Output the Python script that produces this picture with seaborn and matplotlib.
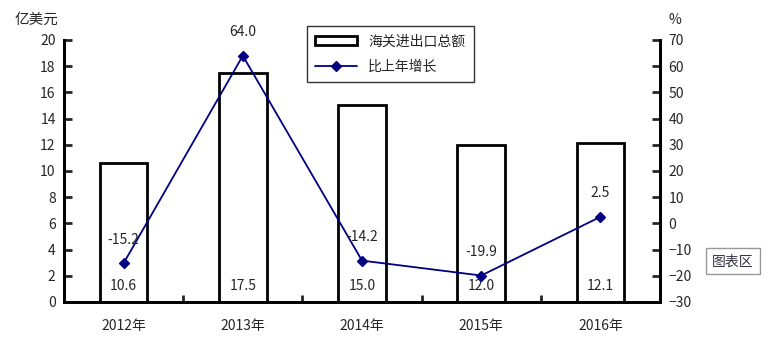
import numpy as np
import pandas as pd
import seaborn as sns
import matplotlib.pyplot as plt

years = ["2012年", "2013年", "2014年", "2015年", "2016年"]
total = [10.6, 17.5, 15.0, 12.0, 12.1]
growth = [-15.2, 64.0, -14.2, -19.9, 2.5]

sns.set_style("white")
plt.rcParams["font.family"] = ["Noto Sans CJK SC", "DejaVu Sans"]

df = pd.DataFrame({"year": years, "total": total, "growth": growth})

fig = plt.figure(figsize=(7.76, 3.53), dpi=100)
ax = fig.add_axes([0.0825, 0.1445, 0.768, 0.7422])

sns.barplot(data=df, x="year", y="total", ax=ax, fill=False, width=0.4,
            edgecolor="black", linewidth=2, label="海关进出口总额")
ax.set_ylim(0, 20)
ax.set_yticks(np.arange(0, 21, 2))
ax.set_xlim(-0.5, 4.5)
ax.set_xlabel("")
ax.set_ylabel("")

ax2 = ax.twinx()
sns.pointplot(data=df, x="year", y="growth", ax=ax2, color="#000080",
              markers="D", markersize=5, linewidth=1.3, label="比上年增长")
ax2.set_ylim(-30, 70)
ax2.set_yticks(np.arange(-30, 71, 10))
ax2.set_xlim(-0.5, 4.5)
ax2.set_ylabel("")

# ticks and spines
for a in (ax, ax2):
    for s in ["left", "right", "bottom"]:
        a.spines[s].set_visible(True)
        a.spines[s].set_linewidth(2)
        a.spines[s].set_color("black")
    a.spines["top"].set_visible(False)
ax.tick_params(axis="y", direction="in", length=6, width=2, labelsize=10, pad=6, left=True)
ax2.tick_params(axis="y", direction="in", length=6, width=2, labelsize=10, pad=6, right=True)
ax.set_xticks(range(len(years)))
ax.set_xticklabels(years)
ax.tick_params(axis="x", which="major", length=0, labelsize=10, pad=12)
ax.set_xticks([0.5, 1.5, 2.5, 3.5], minor=True)
ax.tick_params(axis="x", which="minor", direction="in", length=5, width=2, bottom=True)
ax2.tick_params(axis="x", length=0)

# data labels
for i, v in enumerate(total):
    ax.text(i, 1.2, f"{v:.1f}", ha="center", va="center", fontsize=10)
for i, v in enumerate(growth):
    ax2.annotate(f"{v:.1f}", (i, v), xytext=(0, 17), textcoords="offset points",
                 ha="center", va="center", fontsize=10)

fig.text(0.019, 0.943, "亿美元", fontsize=10.5, va="center")
fig.text(0.862, 0.943, "%", fontsize=10, va="center")

h1, l1 = ax.get_legend_handles_labels()
h2, l2 = ax2.get_legend_handles_labels()
if ax.get_legend() is not None:
    ax.get_legend().remove()
leg = ax2.legend(h1 + h2, l1 + l2, loc="upper left", bbox_to_anchor=(0.396, 1.08),
                 frameon=True, fancybox=False, edgecolor="black", fontsize=10,
                 handlelength=3, borderpad=0.6, labelspacing=0.8)
leg.get_frame().set_linewidth(1)

fig.text(0.918, 0.26, "图表区", fontsize=10, color="#333344", va="center",
         bbox=dict(boxstyle="square,pad=0.45", facecolor="white", edgecolor="#999999"))

fig.savefig("out.png", dpi=100)
